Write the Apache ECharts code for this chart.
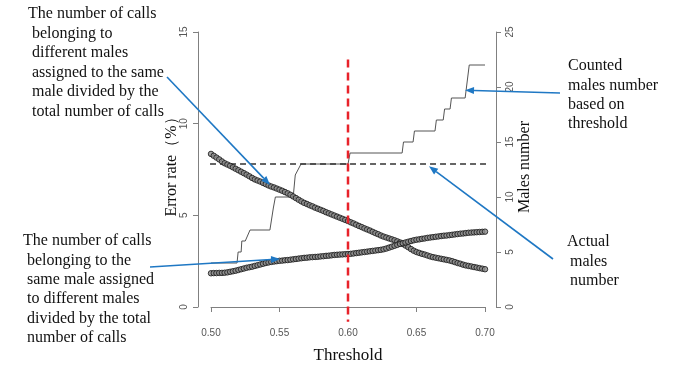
<!DOCTYPE html>
<html><head><meta charset="utf-8">
<script src="https://cdn.jsdelivr.net/npm/echarts@6/dist/echarts.min.js"></script>
<style>html,body{margin:0;padding:0;background:#fff}#c{width:684px;height:368px}</style>
</head><body><div id="c"></div>
<script>
// ---- data ----
const thresholdMin = 0.50, thresholdMax = 0.70, thresholdStep = 0.002;
const xTickLabels = ['0.50', '0.55', '0.60', '0.65', '0.70'];
const errorTicks = [0, 5, 10, 15];
const malesTicks = [0, 5, 10, 15, 20, 25];

// calls of different males assigned to the same male / total calls (%)
const errMerged = [
  8.35, 8.25, 8.15, 8.05, 7.94, 7.84, 7.77, 7.70, 7.62, 7.54,
  7.46, 7.38, 7.30, 7.22, 7.13, 7.04, 6.96, 6.90, 6.84, 6.77,
  6.70, 6.63, 6.57, 6.52, 6.46, 6.40, 6.34, 6.27, 6.20, 6.12,
  6.03, 5.94, 5.85, 5.76, 5.68, 5.62, 5.55, 5.49, 5.42, 5.36,
  5.30, 5.24, 5.17, 5.11, 5.05, 4.99, 4.93, 4.87, 4.81, 4.75,
  4.69, 4.62, 4.56, 4.49, 4.42, 4.36, 4.29, 4.23, 4.17, 4.10,
  4.03, 3.97, 3.90, 3.84, 3.79, 3.74, 3.69, 3.64, 3.58, 3.52,
  3.44, 3.35, 3.26, 3.16, 3.07, 3.00, 2.95, 2.90, 2.86, 2.81,
  2.76, 2.72, 2.69, 2.66, 2.63, 2.60, 2.57, 2.54, 2.50, 2.45,
  2.40, 2.36, 2.31, 2.27, 2.24, 2.21, 2.18, 2.15, 2.12, 2.09,
  2.06
];
// calls of the same male assigned to different males / total calls (%)
const errSplit = [
  1.84, 1.85, 1.85, 1.86, 1.86, 1.87, 1.89, 1.92, 1.95, 1.98,
  2.02, 2.06, 2.10, 2.14, 2.17, 2.20, 2.24, 2.28, 2.32, 2.36,
  2.40, 2.43, 2.46, 2.48, 2.50, 2.52, 2.53, 2.55, 2.56, 2.58,
  2.60, 2.62, 2.64, 2.66, 2.68, 2.69, 2.71, 2.72, 2.73, 2.74,
  2.76, 2.77, 2.79, 2.80, 2.82, 2.84, 2.85, 2.86, 2.87, 2.88,
  2.89, 2.90, 2.92, 2.94, 2.96, 2.98, 3.00, 3.02, 3.04, 3.06,
  3.08, 3.10, 3.12, 3.15, 3.19, 3.24, 3.29, 3.34, 3.39, 3.44,
  3.48, 3.52, 3.56, 3.60, 3.64, 3.67, 3.69, 3.72, 3.74, 3.77,
  3.79, 3.81, 3.83, 3.85, 3.87, 3.89, 3.90, 3.92, 3.94, 3.96,
  3.98, 4.00, 4.01, 4.03, 4.05, 4.06, 4.07, 4.08, 4.09, 4.10,
  4.11
];
// counted males number vs threshold
const countedThresholds = [0.500, 0.519, 0.5198, 0.522, 0.5225, 0.525, 0.5285, 0.543, 0.5455, 0.547, 0.560, 0.5615, 0.5657, 0.600, 0.6015,
  0.6395, 0.6405, 0.6475, 0.6485, 0.6635, 0.6645, 0.6695, 0.6705, 0.6745, 0.6755, 0.6855, 0.6865, 0.6885, 0.700];
const countedMales = [4, 4, 5, 5, 6, 6, 7, 7, 9, 10, 10, 12, 13, 13, 14,
  14, 15, 15, 16, 16, 17, 17, 18, 18, 19, 19, 20, 22, 22];
const actualMales = 13;
const chosenThreshold = 0.60;
const chosenLineTop = 13.5;

// ---- build ----
const thresholds = errMerged.map((_, i) => +(thresholdMin + i * thresholdStep).toFixed(3));
const mergedData = thresholds.map((t, i) => [t, errMerged[i]]);
const splitData = thresholds.map((t, i) => [t, errSplit[i]]);
const countedData = countedThresholds.map((t, i) => [t, countedMales[i]]);
const xPad = 0.04 * (thresholdMax - thresholdMin);
const yPad = 0.04 * 15;

const chart = echarts.init(document.getElementById('c'), null, {renderer: 'canvas'});
const axisGray = '#808080';
const labelStyle = {color: '#555', fontSize: 10, fontFamily: 'Liberation Sans, Arial, sans-serif'};
const serif = 'Liberation Serif, Times New Roman, serif';
const pointStyle = {color: '#8c8c8c', borderColor: '#141414', borderWidth: 1};

chart.setOption({
  animation: false,
  backgroundColor: '#fff',
  grid: {left: 211, right: 199, top: 32, bottom: 61, containLabel: false},
  xAxis: {
    type: 'value', min: thresholdMin, max: thresholdMax, interval: 0.05, offset: 12,
    axisLine: {show: true, lineStyle: {color: axisGray, width: 1}},
    axisTick: {show: true, length: 5, lineStyle: {color: axisGray}},
    axisLabel: Object.assign({margin: 9, formatter: v => xTickLabels[Math.round((v - thresholdMin) / 0.05)] || ''}, labelStyle),
    splitLine: {show: false}
  },
  yAxis: [
    {
      type: 'value', min: errorTicks[0], max: errorTicks[errorTicks.length - 1], interval: 5, position: 'left', offset: 13,
      axisLine: {show: true, lineStyle: {color: axisGray, width: 1}},
      axisTick: {show: true, length: 5, lineStyle: {color: axisGray}},
      axisLabel: Object.assign({rotate: 90, margin: 9}, labelStyle),
      splitLine: {show: false}
    },
    {
      type: 'value', min: malesTicks[0], max: malesTicks[malesTicks.length - 1], interval: 5, position: 'right', offset: 11,
      axisLine: {show: true, lineStyle: {color: axisGray, width: 1}},
      axisTick: {show: true, length: 5, lineStyle: {color: axisGray}},
      axisLabel: Object.assign({rotate: 90, margin: 9}, labelStyle),
      splitLine: {show: false}
    }
  ],
  series: [
    {
      type: 'line', yAxisIndex: 1, data: countedData, symbol: 'none', clip: false,
      lineStyle: {color: '#555', width: 1}, z: 2
    },
    {
      type: 'line', yAxisIndex: 1, symbol: 'none', clip: false,
      data: [[thresholdMin - xPad, actualMales], [thresholdMax + xPad, actualMales]],
      lineStyle: {color: '#333', width: 1.5, type: [6, 4]}, z: 3
    },
    {
      type: 'scatter', yAxisIndex: 0, data: mergedData, symbol: 'circle', symbolSize: 5.5,
      itemStyle: pointStyle, z: 4
    },
    {
      type: 'scatter', yAxisIndex: 0, data: splitData, symbol: 'circle', symbolSize: 5.5,
      itemStyle: pointStyle, z: 4
    },
    {
      type: 'line', yAxisIndex: 0, symbol: 'none', clip: false,
      data: [[chosenThreshold, chosenLineTop], [chosenThreshold, -yPad - 0.2]],
      lineStyle: {color: '#e8222a', width: 2.5, type: [8, 5]}, z: 5
    }
  ]
});

// ---- annotations ----
const blue = '#1f78c4';
function arrow(tail, tipData, axisIdx) {
  const tip = chart.convertToPixel({xAxisIndex: 0, yAxisIndex: axisIdx}, tipData);
  const dx = tip[0] - tail[0], dy = tip[1] - tail[1];
  const L = Math.sqrt(dx * dx + dy * dy), ux = dx / L, uy = dy / L;
  const hl = 9, hw = 3.5;
  const bx = tip[0] - ux * hl, by = tip[1] - uy * hl;
  return [
    {type: 'line', shape: {x1: tail[0], y1: tail[1], x2: bx, y2: by}, style: {stroke: blue, lineWidth: 1.6}, z: 10},
    {type: 'polygon', shape: {points: [[tip[0], tip[1]], [bx - uy * hw, by + ux * hw], [bx + uy * hw, by - ux * hw]]}, style: {fill: blue}, z: 10}
  ];
}
function textLines(lines, y0, lh) {
  return lines.map((l, i) => ({
    type: 'text', x: l[1], y: y0 + i * lh,
    style: {text: l[0], font: '16px ' + serif, fill: '#111', textVerticalAlign: 'middle'}, z: 11
  }));
}
const block1 = [['The number of calls', 28], ['belonging to', 32], ['different males', 32], ['assigned to the same', 32], ['male divided by the', 32], ['total number of calls', 32]];
const block2 = [['The number of calls', 23], ['belonging to the', 27], ['same male assigned', 27], ['to different males', 27], ['divided by the total', 27], ['number of calls', 27]];
const block3 = [['Counted', 568], ['males number', 568], ['based on', 568], ['threshold', 568]];
const block4 = [['Actual', 567], ['males', 570], ['number', 570]];

const g = [].concat(
  textLines(block1, 14, 19.5),
  textLines(block2, 241, 19.4),
  textLines(block3, 66, 19.3),
  textLines(block4, 242, 19.3),
  arrow([167, 77], [0.5431, 6.66], 0),
  arrow([150, 267], [0.5504, 2.62], 0),
  arrow([560, 93], [0.6854, 19.7], 1),
  arrow([553, 259], [0.6591, 12.8], 1),
  [
    {type: 'text', x: 348, y: 356, style: {text: 'Threshold', font: '17px ' + serif, fill: '#111', textAlign: 'center', textVerticalAlign: 'middle'}},
    {type: 'text', x: 172, y: 163, rotation: Math.PI / 2, style: {text: 'Error rate（%）', font: '16px ' + serif, fill: '#111', textAlign: 'center', textVerticalAlign: 'middle'}},
    {type: 'text', x: 525, y: 167, rotation: Math.PI / 2, style: {text: 'Males number', font: '16px ' + serif, fill: '#111', textAlign: 'center', textVerticalAlign: 'middle'}}
  ]
);
chart.setOption({graphic: g});
</script></body></html>
